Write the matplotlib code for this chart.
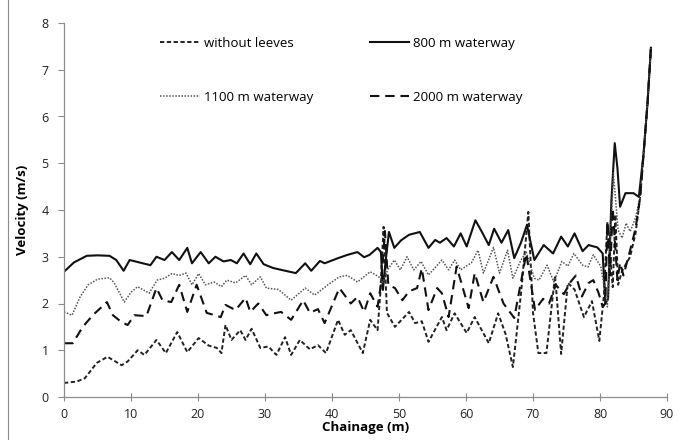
import matplotlib
matplotlib.use("Agg")
import matplotlib.pyplot as plt
from matplotlib.lines import Line2D

# chainage (m) / velocity (m/s)
x_without = [0, 1.9, 3.1, 4.9, 6.5, 8.6, 9.5, 11, 12, 13.8, 15.2, 16.9, 18.4, 20.1, 21.6,
             22.8, 23.5, 24.1, 25, 26.3, 27.1, 28, 29.3, 30.5, 31.7, 33, 33.9, 35.2, 36.7,
             37.9, 39.1, 40.9, 41.9, 42.8, 44.6, 45.7, 46.8, 47.2, 47.7, 48.2, 49.4, 51.5,
             52.4, 53.4, 54.4, 56.4, 57.1, 58.3, 60.1, 61.3, 63.4, 64.8, 65.9, 67.0, 68.2,
             69.3, 70.0, 70.8, 72.0, 73.3, 74.2, 75.2, 76.2, 77.6, 78.8, 79.9, 80.6, 81.1,
             81.9, 82.3, 82.7, 83.3, 84.5, 85.3, 86.0, 86.5, 87.1, 87.6]
y_without = [0.30, 0.33, 0.40, 0.73, 0.86, 0.68, 0.76, 1.00, 0.90, 1.22, 0.94, 1.39, 0.96,
             1.26, 1.10, 1.05, 0.94, 1.54, 1.22, 1.43, 1.22, 1.46, 1.05, 1.08, 0.90, 1.28,
             0.90, 1.22, 1.02, 1.11, 0.94, 1.65, 1.33, 1.43, 0.94, 1.65, 1.43, 2.20, 3.64,
             1.80, 1.50, 1.82, 1.58, 1.62, 1.18, 1.71, 1.43, 1.79, 1.37, 1.71, 1.15, 1.79,
             1.35, 0.64, 2.20, 3.96, 1.80, 0.94, 0.94, 2.60, 0.92, 2.44, 2.30, 1.71, 2.05,
             1.20, 2.20, 3.74, 2.35, 3.90, 2.40, 2.70, 3.00, 3.50, 4.28, 5.20, 6.30, 7.47]

x_800 = [0, 1.5, 3.4, 5, 6.8, 7.8, 8.9, 9.8, 11.2, 12.9, 13.8, 15, 16.1, 17.2, 18.4, 19.1,
         20.4, 21.6, 22.6, 23.8, 24.9, 25.8, 26.8, 27.8, 28.7, 29.8, 31.2, 32.4, 34.6, 36,
         36.9, 38.2, 38.9, 40.9, 42.3, 43.8, 44.8, 45.6, 46.8, 47.3, 47.6, 48.0, 48.5, 49.3,
         50.3, 51.5, 53.1, 54.4, 55.4, 56.1, 57.1, 58.2, 59.2, 60.1, 61.4, 62.3, 63.4, 64.2,
         65.3, 66.3, 67.2, 68.2, 69.1, 70.2, 71.6, 73, 74.2, 75.2, 76.2, 77.4, 78.3, 79.6,
         80.4, 80.8, 81.2, 81.7, 82.2, 82.6, 83.0, 83.8, 85.0, 85.8, 86.5, 87.1, 87.6]
y_800 = [2.68, 2.88, 3.02, 3.03, 3.02, 2.93, 2.70, 2.93, 2.88, 2.82, 3.00, 2.93, 3.10, 2.93,
         3.19, 2.86, 3.10, 2.86, 3.00, 2.90, 2.93, 2.86, 3.07, 2.84, 3.07, 2.84, 2.76, 2.72,
         2.65, 2.86, 2.70, 2.91, 2.86, 2.97, 3.04, 3.10, 2.99, 3.04, 3.19, 3.10, 2.29, 2.90,
         3.53, 3.19, 3.35, 3.47, 3.53, 3.19, 3.36, 3.30, 3.40, 3.22, 3.50, 3.22, 3.78, 3.55,
         3.25, 3.60, 3.30, 3.57, 2.97, 3.30, 3.68, 2.93, 3.25, 3.07, 3.43, 3.22, 3.50, 3.12,
         3.25, 3.20, 3.07, 2.00, 2.10, 4.20, 5.43, 4.90, 4.07, 4.36, 4.36, 4.28, 5.20, 6.30,
         7.47]

x_1100 = [0, 1.2, 2.4, 3.6, 5, 6.8, 7.5, 9, 10, 11, 12.7, 13.9, 15, 16.1, 17.2, 18.2, 19.1,
          20.1, 21.1, 22.4, 23.5, 24.3, 25.6, 27.1, 28, 29.3, 30.2, 32, 33.9, 36, 37.4, 39.4,
          41.1, 42.3, 43.8, 45.7, 47.0, 47.6, 48.3, 49.3, 50.2, 51.2, 52.2, 53.3, 54.4, 56.4,
          57.4, 58.3, 59.2, 60.8, 61.8, 62.6, 64.1, 65, 66.2, 67, 68.2, 69, 70.2, 70.9, 72.1,
          73.1, 74.3, 75.2, 76.1, 77.4, 78.2, 79, 80.1, 80.7, 81.1, 81.6, 82.0, 82.7, 83.3,
          83.9, 84.5, 85.3, 86.0, 86.5, 87.1, 87.6]
y_1100 = [1.82, 1.75, 2.14, 2.40, 2.52, 2.55, 2.44, 2.03, 2.24, 2.36, 2.22, 2.50, 2.54, 2.64,
          2.60, 2.65, 2.40, 2.64, 2.40, 2.46, 2.36, 2.50, 2.44, 2.60, 2.40, 2.57, 2.33, 2.30,
          2.07, 2.33, 2.18, 2.40, 2.57, 2.60, 2.46, 2.68, 2.57, 2.45, 2.72, 2.93, 2.72, 3.00,
          2.72, 2.90, 2.61, 2.93, 2.72, 2.93, 2.72, 2.87, 3.14, 2.65, 3.20, 2.65, 3.14, 2.54,
          2.93, 3.10, 2.54, 2.50, 2.82, 2.46, 2.90, 2.80, 3.07, 2.82, 2.78, 3.04, 2.80, 2.30,
          1.93, 3.50, 4.79, 3.57, 3.40, 3.72, 3.54, 3.83, 4.28, 5.20, 6.30, 7.47]

x_2000 = [0, 1.3, 2.8, 4.3, 6.4, 7.3, 8.6, 9.5, 10.5, 12.3, 13.8, 14.7, 16, 17.2, 18.4, 19.8,
          21.3, 23.4, 24.1, 25.6, 27.1, 27.8, 29, 30.2, 31.7, 32.4, 33.9, 35.7, 36.7, 37.9,
          38.9, 41.1, 42.8, 43.8, 44.8, 45.7, 46.8, 47.4, 47.9, 48.4, 49.4, 50.5, 51.5, 52.7,
          53.4, 54.4, 55.7, 56.4, 57.4, 58.6, 60.4, 61.3, 62.6, 64.1, 65.6, 67.2, 69.0, 70.3,
          71.5, 72.4, 73.4, 74.6, 75.6, 76.4, 77.3, 78.3, 79.0, 79.8, 80.4, 80.8, 81.1, 81.5,
          81.9, 82.6, 83.0, 83.5, 84.5, 85.3, 86.0, 86.5, 87.1, 87.6]
y_2000 = [1.15, 1.15, 1.50, 1.75, 2.03, 1.75, 1.60, 1.54, 1.75, 1.73, 2.33, 2.07, 2.03, 2.40,
          1.82, 2.40, 1.80, 1.71, 1.97, 1.86, 2.12, 1.82, 2.00, 1.75, 1.80, 1.82, 1.65, 2.07,
          1.80, 1.88, 1.58, 2.33, 2.00, 2.14, 1.82, 2.22, 1.93, 2.50, 3.55, 2.40, 2.33, 2.07,
          2.26, 2.33, 2.75, 1.86, 2.33, 2.22, 1.71, 2.79, 1.90, 2.65, 2.03, 2.57, 2.00, 1.69,
          3.07, 1.86, 2.10, 2.00, 2.40, 2.20, 2.46, 2.60, 2.15, 2.44, 2.50, 2.22, 1.93, 2.00,
          3.74, 2.60, 4.04, 2.50, 2.87, 2.60, 3.14, 3.60, 4.28, 5.20, 6.30, 7.47]

x_ticks = list(range(0, 91, 10))
y_ticks = list(range(0, 9))

plt.rcParams["font.family"] = ["Open Sans", "DejaVu Sans"]

fig = plt.figure(figsize=(6.78, 4.40), dpi=100)
ax = fig.add_axes([64 / 678, 43 / 440, 603 / 678, 374 / 440])

l_without, = ax.plot(x_without, y_without, color="#222222", lw=1.4, dashes=(2.2, 1.3),
                     label="without leeves")
l_800, = ax.plot(x_800, y_800, color="#111111", lw=1.5, label="800 m waterway")
l_1100, = ax.plot(x_1100, y_1100, color="#555555", lw=1.1, dashes=(1, 1),
                  label="1100 m waterway")
l_2000, = ax.plot(x_2000, y_2000, color="#111111", lw=1.5, dashes=(4.5, 2.8),
                  label="2000 m waterway")

ax.set_xlim(0, 90)
ax.set_ylim(0, 8)
ax.set_xticks(x_ticks)
ax.set_yticks(y_ticks)
for side in ("top", "right"):
    ax.spines[side].set_visible(False)
for side in ("left", "bottom"):
    ax.spines[side].set_color("#8c8c8c")
    ax.spines[side].set_linewidth(0.9)
ax.tick_params(axis="x", direction="inout", length=6, color="#8c8c8c", labelsize=9,
               pad=5, labelcolor="#222222")
ax.tick_params(axis="y", direction="out", length=4, color="#8c8c8c", labelsize=9,
               pad=7, labelcolor="#222222")
ax.set_xlabel("Chainage (m)", fontsize=9.5, fontweight="bold", labelpad=0)
ax.set_ylabel("Velocity (m/s)", fontsize=9.5, fontweight="bold", labelpad=9)

# column-major fill: row 1 = without / 800, row 2 = 1100 / 2000
ax.legend(handles=[l_without, l_1100, l_800, l_2000], loc="upper left",
          bbox_to_anchor=(0.14, 0.995), ncol=2, frameon=False, fontsize=9.5,
          handlelength=3.0, labelspacing=3.1, columnspacing=4.3, handletextpad=0.3)

# chart area border on the left edge
fig.add_artist(Line2D([8 / 678, 8 / 678], [0, 1], transform=fig.transFigure,
                      color="#8c8c8c", lw=0.8))

fig.savefig("out.png", dpi=100)
